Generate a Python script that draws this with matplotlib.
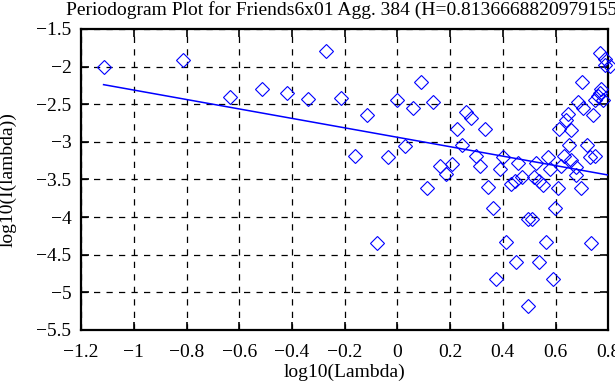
import matplotlib
matplotlib.use("Agg")
import matplotlib.pyplot as plt

# periodogram points (log10 lambda, log10 I(lambda))
log_lambda = [-1.115, -0.813, -0.637, -0.513, -0.418, -0.339, -0.272, -0.215,
              -0.162, -0.115, -0.076, -0.035, -0.003, 0.030, 0.059, 0.088,
              0.114, 0.136, 0.160, 0.186, 0.206, 0.226, 0.245, 0.262, 0.280,
              0.299, 0.315, 0.331, 0.345, 0.363, 0.375, 0.388, 0.400, 0.413,
              0.432, 0.445, 0.451, 0.457, 0.474, 0.495, 0.495, 0.512, 0.517,
              0.527, 0.537, 0.539, 0.552, 0.565, 0.571, 0.580, 0.592, 0.599,
              0.609, 0.615, 0.619, 0.632, 0.641, 0.647, 0.653, 0.660, 0.660,
              0.676, 0.678, 0.685, 0.695, 0.701, 0.703, 0.718, 0.729, 0.735,
              0.742, 0.748, 0.748, 0.761, 0.767, 0.767, 0.773, 0.780, 0.786,
              0.789, 0.805]
log_I = [-2.005, -1.908, -2.41, -2.30, -2.353, -2.433, -1.80, -2.42,
         -3.19, -2.647, -4.34, -3.197, -2.45, -3.055, -2.553, -2.20,
         -3.62, -2.469, -3.32, -3.428, -3.295, -2.833, -3.04, -2.611, -2.686,
         -3.19, -3.32, -2.824, -3.606, -3.877, -4.818, -3.366, -3.206, -4.33,
         -3.561, -3.517, -4.596, -3.277, -3.472, -4.032, -5.18, -4.032, -3.464,
         -3.277, -4.596, -3.517, -3.575, -4.33, -3.206, -3.366, -4.818, -3.877,
         -3.61, -2.833, -3.32, -3.19, -2.708, -2.63, -3.046, -2.842, -3.242,
         -3.441, -3.33, -2.465, -3.62, -2.20, -2.553, -3.04, -3.197, -4.34,
         -2.644, -3.19, -2.442, -2.389, -1.819, -2.353, -2.30, -2.442, -1.976,
         -1.90, -1.997]

# fitted line end points
fit_x = [-1.115, 0.805]
fit_y = [-2.241, -3.445]

xticks = [-1.2, -1, -0.8, -0.6, -0.4, -0.2, 0, 0.2, 0.4, 0.6, 0.8]
xlabels = ["\u22121.2", "\u22121", "\u22120.8", "\u22120.6", "\u22120.4", "\u22120.2",
           "0", "0.2", "0.4", "0.6", "0.8"]
yticks = [-5.5, -5, -4.5, -4, -3.5, -3, -2.5, -2, -1.5]
ylabels = ["\u22125.5", "\u22125", "\u22124.5", "\u22124", "\u22123.5", "\u22123",
           "\u22122.5", "\u22122", "\u22121.5"]

plt.rcParams["font.family"] = ["Liberation Serif", "DejaVu Serif"]
plt.rcParams["font.size"] = 14

fig = plt.figure(figsize=(6.15, 3.85), dpi=100)
ax = fig.add_axes([0.132, 0.143, 0.857, 0.782])

ax.plot(log_lambda, log_I, linestyle="none", marker="D", markersize=7,
        markerfacecolor="none", markeredgecolor="blue", markeredgewidth=0.8,
        clip_on=False, zorder=3)
ax.plot(fit_x, fit_y, color="blue", linewidth=1.1, zorder=3)

ax.set_xlim(-1.2, 0.8)
ax.set_ylim(-5.5, -1.5)
ax.set_xticks(xticks)
ax.set_xticklabels(xlabels)
ax.set_yticks(yticks)
ax.set_yticklabels(ylabels)
ax.tick_params(direction="in", length=6, width=1.2, top=True, right=True,
               labelsize=14)
ax.tick_params(axis="x", pad=10)
ax.tick_params(axis="y", pad=7)
ax.grid(True, color="black", linestyle=(0, (5, 5)), linewidth=0.9)
for sp in ax.spines.values():
    sp.set_linewidth(1.6)

ax.set_xlabel("log10(Lambda)", fontsize=14)
ax.xaxis.set_label_coords(0.5, -0.112)
ax.set_ylabel("log10(I(lambda))", fontsize=14)
ax.yaxis.set_label_coords(-0.122, 0.5)
ax.set_title("Periodogram Plot for Friends6x01 Agg. 384 (H=0.8136668820979155)",
             fontsize=14, pad=10)

fig.savefig("out.png", dpi=100)
